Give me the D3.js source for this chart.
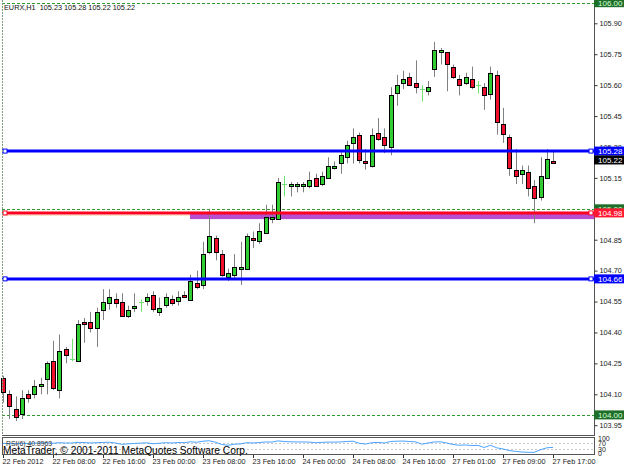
<!DOCTYPE html>
<html>
<head>
<meta charset="utf-8">
<script src="https://cdn.jsdelivr.net/npm/d3@7"></script>
<style>
body { margin: 0; background: #fff; }
svg { display: block; font-family: "Liberation Sans", Arial, sans-serif; }
</style>
</head>
<body>
<svg id="chart" width="625" height="469"></svg>
<script>
// EURX H1 candles, 22 Feb 00:00 .. 27 Feb 17:00
var openP = [104.18,104.10,104.03,104.00,104.10,104.10,104.14,104.17,104.26,104.12,
             104.32,104.27,104.26,104.45,104.45,104.42,104.51,104.54,104.56,104.55,
             104.48,104.52,104.55,104.55,104.58,104.50,104.53,104.56,104.55,104.58,
             104.56,104.64,104.63,104.79,104.86,104.78,104.67,104.68,104.71,104.71,
             104.86,104.84,104.88,104.95,104.95,105.12,105.11,105.11,105.11,105.11,
             105.15,105.12,105.15,105.20,105.22,105.25,105.32,105.36,105.23,105.21,
             105.37,105.35,105.30,105.56,105.61,105.64,105.61,105.58,105.57,105.68,
             105.76,105.76,105.69,105.63,105.61,105.63,105.60,105.59,105.56,105.65,
             105.41,105.35,105.19,105.17,105.18,105.11,105.06,105.15,105.23];
var highP = [104.19,104.12,104.09,104.12,104.12,104.17,104.18,104.26,104.36,104.39,
             104.33,104.37,104.46,104.47,104.50,104.52,104.61,104.61,104.59,104.59,
             104.53,104.59,104.56,104.59,104.60,104.57,104.59,104.58,104.60,104.60,
             104.68,104.70,104.84,105.00,104.87,104.80,104.71,104.78,104.84,104.88,
             104.89,104.93,105.02,105.02,105.15,105.16,105.13,105.13,105.13,105.18,
             105.17,105.18,105.25,105.23,105.28,105.33,105.39,105.37,105.29,105.39,
             105.44,105.39,105.59,105.65,105.67,105.66,105.72,105.60,105.62,105.81,
             105.78,105.76,105.70,105.65,105.66,105.69,105.62,105.61,105.69,105.67,
             105.49,105.36,105.29,105.21,105.21,105.14,105.25,105.29,105.28];
var lowP =  [104.06,103.98,103.97,103.98,104.06,104.08,104.10,104.10,104.12,104.08,
             104.25,104.26,104.26,104.35,104.40,104.33,104.46,104.51,104.52,104.48,
             104.47,104.50,104.50,104.53,104.50,104.48,104.52,104.53,104.53,104.57,
             104.56,104.61,104.61,104.78,104.75,104.67,104.65,104.66,104.63,104.71,
             104.81,104.83,104.88,104.93,104.95,105.06,105.06,105.08,105.08,105.10,
             105.11,105.11,105.15,105.19,105.17,105.22,105.22,105.22,105.19,105.20,
             105.33,105.27,105.26,105.50,105.58,105.60,105.56,105.52,105.55,105.64,
             105.70,105.57,105.63,105.55,105.60,105.58,105.56,105.48,105.53,105.36,
             105.32,105.16,105.12,105.12,105.06,104.93,105.04,105.15,105.22];
var closeP = [104.11,104.04,103.99,104.08,104.08,104.14,104.15,104.25,104.13,104.31,
             104.29,104.27,104.44,104.44,104.42,104.50,104.55,104.57,104.54,104.48,
             104.51,104.53,104.55,104.57,104.51,104.52,104.57,104.54,104.57,104.57,
             104.65,104.62,104.78,104.87,104.79,104.68,104.69,104.72,104.72,104.87,
             104.85,104.89,104.96,104.96,105.13,105.12,105.12,105.12,105.12,105.14,
             105.11,105.16,105.21,105.21,105.26,105.31,105.35,105.24,105.22,105.36,
             105.34,105.31,105.55,105.60,105.63,105.60,105.59,105.58,105.59,105.77,
             105.77,105.70,105.64,105.60,105.64,105.59,105.60,105.55,105.66,105.42,
             105.36,105.20,105.16,105.19,105.10,105.05,105.16,105.24,105.22];

// RSI(6)
var rsiVals = [68,66,64,68,67,69,70,72,68,72, 70,70,74,73,70,72,74,75,70,61,
               64,67,69,71,65,68,72,70,73,72, 78,75,82,85,75,60,55,62,64,72,
               70,73,77,76,84,80,78,77,77,76, 72,74,76,76,77,80,82,68,63,72,
               74,70,80,82,83,80,78,62,70,77, 78,70,60,55,57,53,54,40,55,38,
               30,20,14,10,8,8,25,38,40.8963];

var dateIdx = [0,8,16,24,32,40,48,56,64,72,80,88];
var dateLabels = ["22 Feb 2012","22 Feb 08:00","22 Feb 16:00","23 Feb 00:00","23 Feb 08:00","23 Feb 16:00",
                  "24 Feb 00:00","24 Feb 08:00","24 Feb 16:00","27 Feb 01:00","27 Feb 09:00","27 Feb 17:00"];
var priceTicks = [105.90,105.75,105.60,105.45,105.30,105.15,105.00,104.85,104.70,104.55,104.40,104.25,104.10,103.95];
var roundLevels = [106.00, 105.00, 104.00];
var blueLevels = [105.28, 104.66];
var redLevel = 104.98;
var zoneLow = 104.95, zoneHigh = 104.985, zoneStart = 30;
var bidPrice = 105.22;
var rsiLevels = [70, 30];
var rsiTicks = [100, 70, 30, 0];

var svg = d3.select("#chart");
var W = 625, left = 2, axisX = 594, bottom = 435;

var x = d3.scaleLinear().domain([0, 88]).range([3, 553]);
var y = d3.scaleLinear().domain([104.10, 105.90]).range([394.3, 23.3]);
var yr = d3.scaleLinear().domain([0, 100]).range([453.5, 438.5]);
function px(i) { return Math.round(x(i)); }

svg.append("rect").attr("width", W).attr("height", 469).attr("fill", "#fff");

// round-number dotted lines
svg.selectAll("line.round").data(roundLevels).enter().append("line")
    .attr("x1", left).attr("x2", axisX)
    .attr("y1", d => Math.round(y(d)) + 0.5).attr("y2", d => Math.round(y(d)) + 0.5)
    .attr("stroke", "#2f9a2f").attr("stroke-dasharray", "3,2");

// zone rectangle
svg.append("rect")
    .attr("x", px(zoneStart)).attr("width", axisX - px(zoneStart))
    .attr("y", y(zoneHigh)).attr("height", y(zoneLow) - y(zoneHigh))
    .attr("fill", "#b84fd0");

// candles
var bars = d3.range(openP.length).map(function(i) {
    return { i: i, o: openP[i], h: highP[i], l: lowP[i], c: closeP[i] };
});
var gC = svg.append("g");
gC.selectAll("line.wick").data(bars).enter().append("line")
    .attr("x1", d => px(d.i) + 0.5).attr("x2", d => px(d.i) + 0.5)
    .attr("y1", d => y(d.h)).attr("y2", d => y(d.l))
    .attr("stroke", d => d.o == d.c ? "#6fe06f" : "#808080");
gC.selectAll("rect.body").data(bars.filter(d => d.o != d.c)).enter().append("rect")
    .attr("x", d => px(d.i) - 1.5).attr("width", 4)
    .attr("y", d => Math.round(y(Math.max(d.o, d.c))) + 0.5)
    .attr("height", d => Math.max(1, Math.round(Math.abs(y(d.o) - y(d.c)))))
    .attr("fill", d => d.c > d.o ? "#32cd32" : "#f0102e")
    .attr("stroke", "#000");
gC.selectAll("line.doji").data(bars.filter(d => d.o == d.c)).enter().append("line")
    .attr("x1", d => px(d.i) - 2).attr("x2", d => px(d.i) + 3)
    .attr("y1", d => Math.round(y(d.o)) + 0.5).attr("y2", d => Math.round(y(d.o)) + 0.5)
    .attr("stroke", "#6fe06f");

// red support line
svg.append("line").attr("x1", left).attr("x2", px(zoneStart))
    .attr("y1", y(redLevel) + 2.5).attr("y2", y(redLevel) + 2.5)
    .attr("stroke", "#f6e4c4").attr("stroke-width", 1);
svg.append("line").attr("x1", left).attr("x2", axisX)
    .attr("y1", y(redLevel)).attr("y2", y(redLevel))
    .attr("stroke", "#ff0020").attr("stroke-width", 3);

// blue lines
svg.selectAll("line.blue").data(blueLevels).enter().append("line")
    .attr("x1", left).attr("x2", axisX)
    .attr("y1", d => y(d)).attr("y2", d => y(d))
    .attr("stroke", "#0000ff").attr("stroke-width", 3);

// line end markers
var markers = blueLevels.map(v => ({ v: v, col: "#0000ff" })).concat([{ v: redLevel, col: "#ff0020" }]);
[5, axisX - 3].forEach(function(mx) {
    svg.selectAll(null).data(markers).enter().append("rect")
        .attr("x", mx - 2).attr("y", d => y(d.v) - 2).attr("width", 4).attr("height", 4)
        .attr("fill", "#fff").attr("stroke", d => d.col);
});

// frame
svg.append("line").attr("x1", left + 0.5).attr("x2", left + 0.5).attr("y1", 0).attr("y2", bottom)
    .attr("stroke", "#7f9a7f").attr("stroke-dasharray", "2,1");
svg.append("line").attr("x1", axisX + 0.5).attr("x2", axisX + 0.5).attr("y1", 0).attr("y2", bottom)
    .attr("stroke", "#555");
svg.append("line").attr("x1", left).attr("x2", axisX + 1).attr("y1", bottom + 0.5).attr("y2", bottom + 0.5)
    .attr("stroke", "#555");

// price axis
var yAxis = d3.axisRight(y).tickValues(priceTicks).tickSize(3).tickPadding(2).tickFormat(d3.format(".2f"));
var gY = svg.append("g").attr("transform", "translate(" + (axisX + 0.5) + ",0)").call(yAxis);
gY.select(".domain").remove();
gY.selectAll("line").attr("stroke", "#333");
gY.selectAll("text").attr("font-size", 7.3).attr("fill", "#222").attr("font-family", "Liberation Sans, Arial");

// price labels on axis
function tag(v, bg, fg, txt, dy) {
    var yy = y(v) + (dy || 0);
    svg.append("rect").attr("x", axisX).attr("y", yy - 4.5).attr("width", 30).attr("height", 9).attr("fill", bg);
    svg.append("text").attr("x", axisX + 4).attr("y", yy + 3).attr("font-size", 8)
        .attr("fill", fg).text(txt);
}
roundLevels.forEach(v => tag(v, "#1f6f2a", "#d8ffd8", v.toFixed(2)));
tag(redLevel, "#ff1830", "#fff", redLevel.toFixed(2));
blueLevels.forEach(v => tag(v, "#0000ff", "#fff", v.toFixed(2)));
tag(bidPrice, "#000", "#fff", bidPrice.toFixed(2), -3.5);

// title
svg.append("text").attr("x", 4).attr("y", 10).attr("font-size", 7.3).attr("fill", "#111")
    .attr("xml:space", "preserve")
    .text("EURX,H1  " + [openP[88], highP[88], lowP[88], closeP[88]].map(d => d.toFixed(2)).join(" "));

// RSI panel
svg.append("rect").attr("x", left + 0.5).attr("y", 437.5).attr("width", axisX - left).attr("height", 17)
    .attr("fill", "#fff").attr("stroke", "#555");
svg.selectAll("line.rl").data(rsiLevels).enter().append("line")
    .attr("x1", left + 1).attr("x2", axisX)
    .attr("y1", d => Math.round(yr(d)) + 0.5).attr("y2", d => Math.round(yr(d)) + 0.5)
    .attr("stroke", "#c8c8c8").attr("stroke-dasharray", "2,2");
svg.append("path").datum(rsiVals)
    .attr("d", d3.line().x((d, i) => x(i)).y(d => yr(d)))
    .attr("fill", "none").attr("stroke", "#4aa3ff").attr("stroke-width", 1);
svg.append("text").attr("x", 6).attr("y", 446).attr("font-size", 6.8).attr("fill", "#333")
    .text("RSI(6) " + rsiVals[rsiVals.length - 1].toFixed(4));
svg.selectAll("text.rt").data(rsiTicks).enter().append("text")
    .attr("x", axisX + 4).attr("y", d => yr(d) + 2.5).attr("font-size", 7).attr("fill", "#222")
    .text(d => d);

// copyright
svg.append("text").attr("x", 3).attr("y", 453.5).attr("font-size", 10.2).attr("fill", "#000")
    .text("MetaTrader, \u00a9 2001-2011 MetaQuotes Software Corp.");

// time axis
var xAxis = d3.axisBottom(x).tickValues(dateIdx).tickSize(3).tickPadding(1)
    .tickFormat((d, i) => dateLabels[i]);
var gX = svg.append("g").attr("transform", "translate(0,455)").call(xAxis);
gX.select(".domain").remove();
gX.selectAll("line").attr("stroke", "#333");
gX.selectAll("text").attr("text-anchor", "start").attr("dx", -1).attr("font-size", 7.3)
    .attr("fill", "#222").attr("font-family", "Liberation Sans, Arial");
</script>
</body>
</html>
